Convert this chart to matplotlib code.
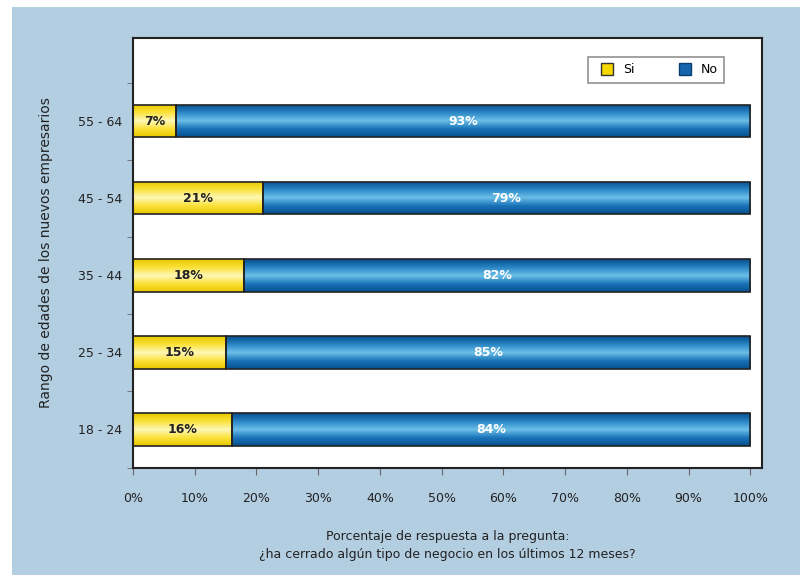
import numpy as np
import matplotlib.pyplot as plt
from matplotlib.patches import Rectangle
from matplotlib.colors import LinearSegmentedColormap
from matplotlib.lines import Line2D

# data (bottom to top)
edades = ["18 - 24", "25 - 34", "35 - 44", "45 - 54", "55 - 64"]
si = [16, 15, 18, 21, 7]
no = [84, 85, 82, 79, 93]
xticks = [0, 10, 20, 30, 40, 50, 60, 70, 80, 90, 100]

plt.rcParams["font.family"] = ["DejaVu Sans"]

fig = plt.figure(figsize=(8, 5.75), dpi=100)
fig.patch.set_facecolor("white")
fig.patches.append(Rectangle((12 / 800, 0), 1, 1 - 7 / 575, transform=fig.transFigure,
                             facecolor="#b3cde1", edgecolor="none", zorder=-10))

ax = fig.add_axes([133 / 800, 1 - 468 / 575, 629 / 800, 430 / 575])
ax.set_facecolor("white")

yel = LinearSegmentedColormap.from_list("yel", ["#e8c800", "#fbe23a", "#fff7b8", "#fbe23a", "#e8c800"])
blu = LinearSegmentedColormap.from_list("blu", ["#064f8f", "#1a74b8", "#6cbfe8", "#2a86c6", "#064f8f"])
grad = np.linspace(0, 1, 64).reshape(-1, 1)

h = 0.42
y = np.arange(len(edades))
for i in range(len(edades)):
    left = 0
    for val, cmap in [(si[i], yel), (no[i], blu)]:
        r = Rectangle((left, y[i] - h / 2), val, h, facecolor="none", edgecolor="#222222", lw=1.2, zorder=3)
        ax.add_patch(r)
        im = ax.imshow(grad, cmap=cmap, aspect="auto", extent=(left, left + val, y[i] + h / 2, y[i] - h / 2),
                       zorder=2, interpolation="bilinear")
        im.set_clip_path(r)
        left += val
    ax.text(si[i] / 2, y[i], f"{si[i]}%", ha="center", va="center", fontsize=9, fontweight="bold",
            color="#222222", zorder=4)
    ax.text(si[i] + no[i] / 2, y[i], f"{no[i]}%", ha="center", va="center", fontsize=9, fontweight="bold",
            color="white", zorder=4)

ax.set_xlim(0, 101.9)
ax.set_ylim(-0.5, 5.08)
ax.set_xticks(xticks)
ax.set_xticklabels([f"{t}%" for t in xticks], fontsize=9, color="#222222")
ax.set_yticks(y)
ax.set_yticklabels(edades, fontsize=9, color="#222222")
ax.set_yticks(np.arange(-0.5, 5, 1), minor=True)
ax.tick_params(axis="y", which="major", length=0, pad=8)
ax.tick_params(axis="y", which="minor", length=4, color="#666666", direction="out")
ax.tick_params(axis="x", length=5, color="#666666", direction="out", pad=12)
for s in ax.spines.values():
    s.set_color("#222222")
    s.set_linewidth(1.5)

ax.set_ylabel("Rango de edades de los nuevos empresarios", fontsize=10, color="#222222", labelpad=18)
ax.set_xlabel("Porcentaje de respuesta a la pregunta:\n¿ha cerrado algún tipo de negocio en los últimos 12 meses?",
              fontsize=9, color="#222222", labelpad=18, linespacing=1.5)

handles = [Line2D([], [], ls="none", marker="s", markersize=9, markerfacecolor="#f5d800",
                  markeredgecolor="#333333"),
           Line2D([], [], ls="none", marker="s", markersize=9, markerfacecolor="#1466ad",
                  markeredgecolor="#0b3f70")]
leg = ax.legend(handles, ["Si", "No"], loc="upper right", bbox_to_anchor=(0.95, 0.97), ncol=2,
                fontsize=9, frameon=True, fancybox=False, edgecolor="#777777", columnspacing=3.0,
                handletextpad=0.3, borderpad=0.5)
leg.get_frame().set_linewidth(1.2)

fig.savefig("out.png", dpi=100)
